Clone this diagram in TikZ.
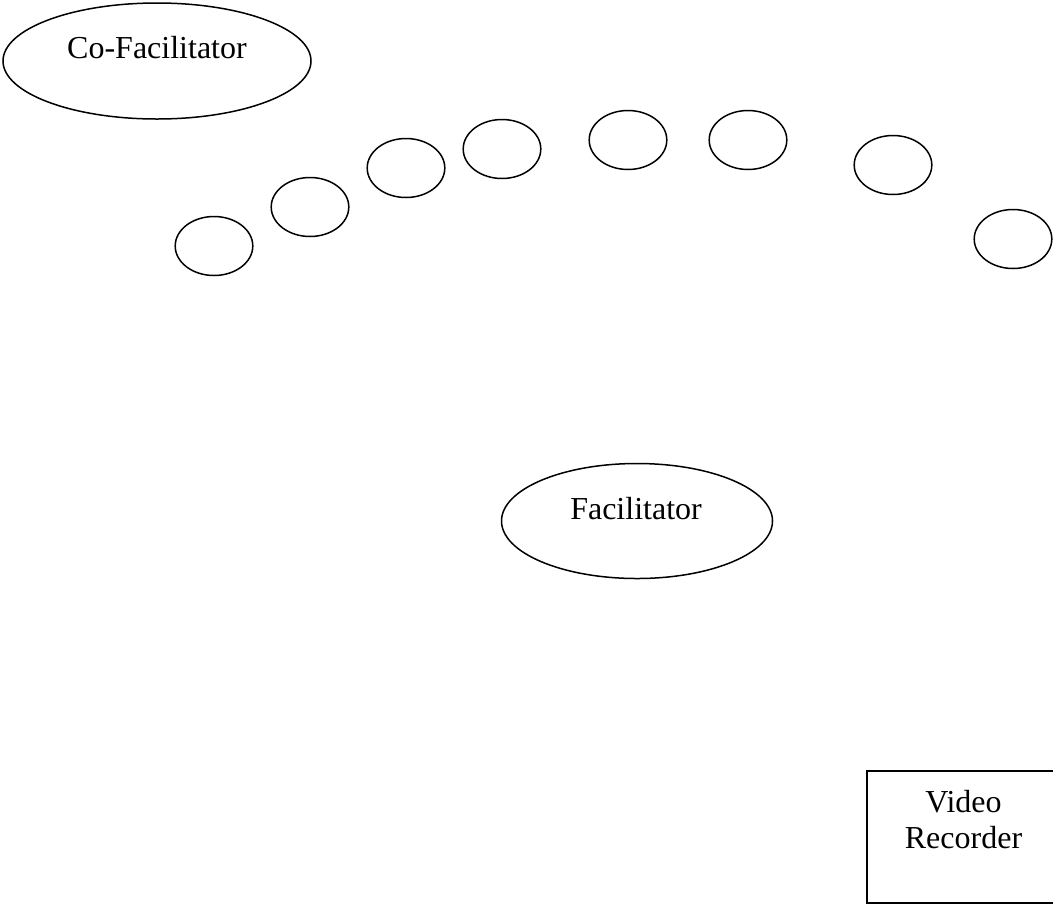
\documentclass[tikz,border=0pt]{standalone}
\usepackage{fontspec}
\setmainfont{Liberation Serif}
\usetikzlibrary{shapes.geometric}
\begin{document}
\begin{tikzpicture}[x=0.5pt,y=-0.5pt,
    oval/.style={draw,ellipse,inner sep=0pt,line width=0.75pt},
    seat/.style={oval,minimum width=38.8pt,minimum height=29.5pt},
    lbl/.style={anchor=base,inner sep=0pt,align=center,font=\fontsize{16}{18}\selectfont}]
    \useasboundingbox (0,0) rectangle (1053,906);
    \node[oval,minimum width=154pt,minimum height=58pt] (cofac) at (157,61) {};
    \node[lbl] (cofactext) at (157,58) {Co-Facilitator};
    \foreach \i/\x/\y in {1/214/246,2/310/207,3/406/168,4/502/149,5/628/140,6/748/140,7/893/165,8/1013/239}
    \node[seat] (seat\i) at (\x,\y) {};
    \node[oval,minimum width=135.5pt,minimum height=57.5pt] (fac) at (637,521) {};
    \node[lbl] (factext) at (636,519) {Facilitator};
    \node[draw,line width=0.75pt,minimum width=96.5pt,minimum height=66pt] (video) at (963.5,837) {};
    \node[lbl] (videotext) at (963.5,848) {Video\\Recorder};
\end{tikzpicture}
\end{document}
